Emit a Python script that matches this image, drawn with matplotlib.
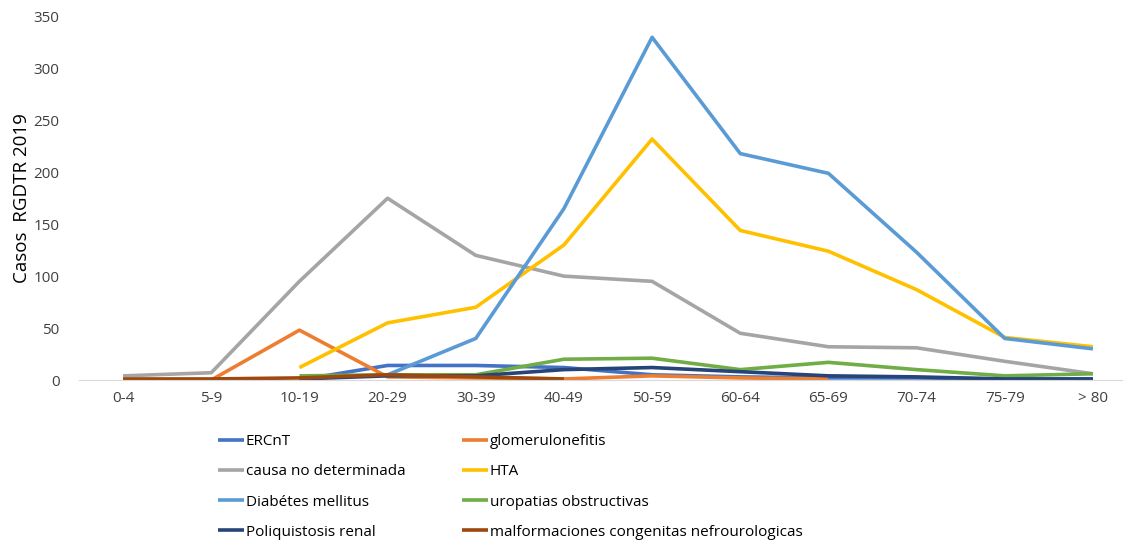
import numpy as np
import matplotlib
matplotlib.use('Agg')
import matplotlib.pyplot as plt

plt.rcParams['font.family'] = ['Open Sans', 'DejaVu Sans']

GRUPOS = ['0-4', '5-9', '10-19', '20-29', '30-39', '40-49', '50-59',
          '60-64', '65-69', '70-74', '75-79', '> 80']
N = np.nan

ercnt = [N, N, 0, 14, 14, 12, 5, 3, 2, 2, 1, 1]
glomerulo = [0, 0, 48, 3, 2, 1, 4, 2, 1, N, N, N]
causa_nd = [4, 7, 95, 175, 120, 100, 95, 45, 32, 31, 18, 6]
hta = [N, N, 12, 55, 70, 130, 232, 144, 124, 87, 41, 32]
diabetes = [N, N, N, 5, 40, 165, 330, 218, 199, 123, 40, 30]
uropatias = [N, N, 4, 5, 5, 20, 21, 10, 17, 10, 4, 6]
poliquistosis = [N, N, 1, 4, 4, 10, 12, 8, 4, 3, 1, 1]
malformaciones = [1, 1, 2, 5, 3, 1, N, N, N, N, N, N]

SERIES = [
    ('ERCnT', ercnt, '#4472C4'),
    ('glomerulonefitis', glomerulo, '#ED7D31'),
    ('causa no determinada', causa_nd, '#A5A5A5'),
    ('HTA', hta, '#FFC000'),
    ('Diabétes mellitus', diabetes, '#5B9BD5'),
    ('uropatias obstructivas', uropatias, '#70AD47'),
    ('Poliquistosis renal', poliquistosis, '#264478'),
    ('malformaciones congenitas nefrourologicas', malformaciones, '#9E480E'),
]

fig = plt.figure(figsize=(11.23, 5.41), dpi=100)
ax = fig.add_axes([79 / 1123, 161 / 541, 1058 / 1123, 363.5 / 541])

x = np.arange(len(GRUPOS))
lines = []
for name, vals, col in SERIES:
    ln, = ax.plot(x, np.array(vals, dtype=float), color=col, linewidth=2.6,
                  solid_capstyle='butt', label=name)
    lines.append(ln)

ax.set_xlim(-0.5, len(GRUPOS) - 0.5)
ax.set_ylim(0, 350)
ax.set_yticks(range(0, 351, 50))
ax.set_xticks(x)
ax.set_xticklabels(GRUPOS)
ax.tick_params(axis='both', length=0, labelsize=11, colors='#404040', pad=8)
ax.tick_params(axis='y', pad=14)
for s in ['top', 'right', 'left']:
    ax.spines[s].set_visible(False)
ax.spines['bottom'].set_color('#D9D9D9')
ax.set_ylabel('Casos  RGDTR 2019', fontsize=13.5, color='#000000', labelpad=2)

# legend is filled row by row in the reference
order = [0, 2, 4, 6, 1, 3, 5, 7]
hs = [lines[i] for i in order]
fig.legend(hs, [h.get_label() for h in hs], loc='upper left',
           bbox_to_anchor=(218 / 1123, 1 - 434 / 541),
           ncol=2, frameon=False, handlelength=1.7,
           handletextpad=0.1, columnspacing=3.75, labelspacing=1.0,
           borderaxespad=0, borderpad=0,
           prop={'family': ['Open Sans', 'DejaVu Sans'], 'size': 11})

fig.savefig('out.png', dpi=100)
